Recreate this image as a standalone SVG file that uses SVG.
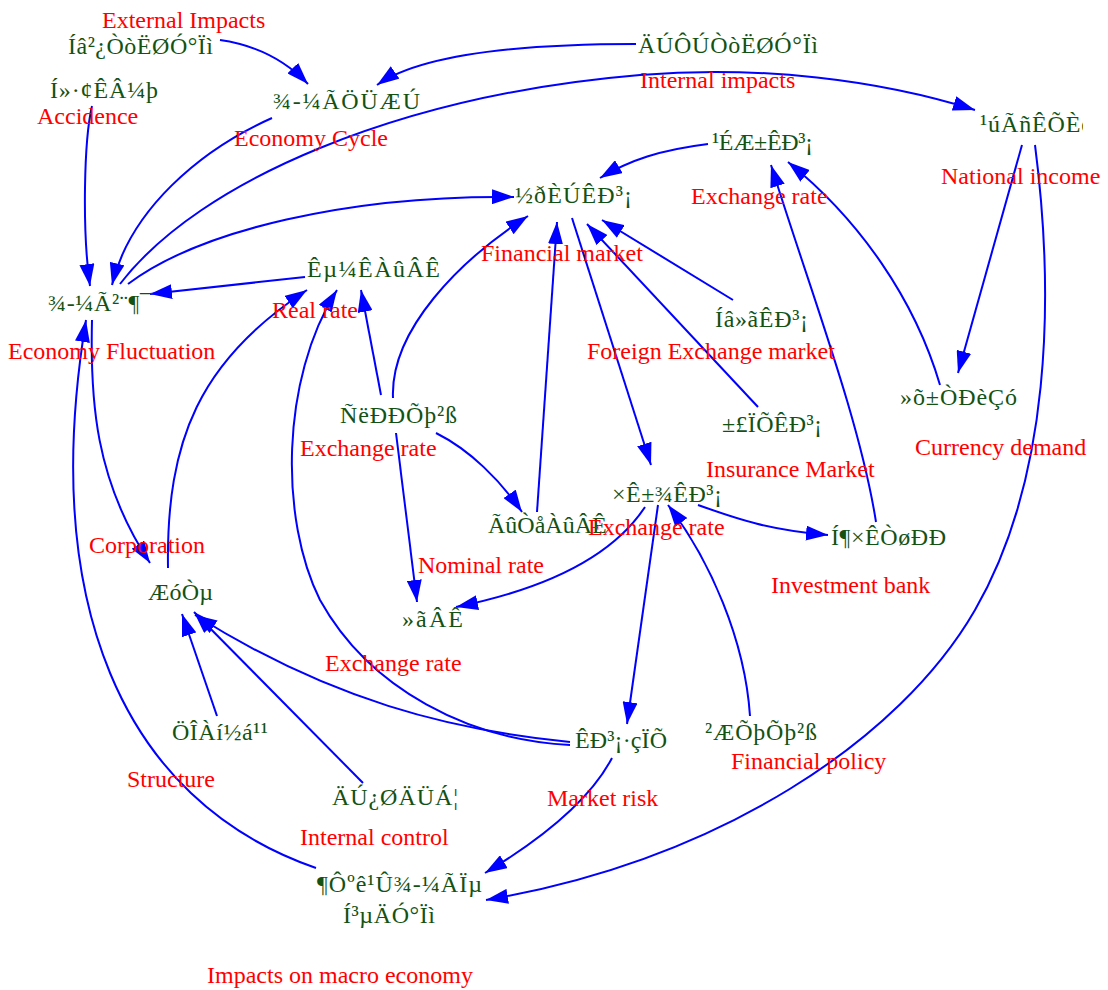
<svg xmlns="http://www.w3.org/2000/svg" width="1108" height="990" viewBox="0 0 1108 990">
<style>
.n{font-family:"Liberation Serif","Times New Roman",serif;font-size:24px;fill:#145214}
.l{font-family:"Liberation Serif","Times New Roman",serif;font-size:24px;fill:#ff0000}
.e path{fill:none;stroke:#0000ff;stroke-width:2;marker-end:url(#ah)}
</style>
<defs>
<marker id="ah" markerUnits="userSpaceOnUse" markerWidth="23" markerHeight="15" refX="22" refY="7.5" orient="auto">
<path d="M0,0 L22,7.5 L0,15 z" fill="#0000ff"/>
</marker>
<clipPath id="cr"><rect x="0" y="0" width="1083" height="990"/></clipPath>
</defs>
<rect width="1108" height="990" fill="#ffffff"/>
<g class="e" id="connectors">
<path d="M220,40 C255,45 285,60 308,84"/>
<path d="M636,44 C520,44 420,55 377,85"/>
<path d="M92,106 C84,140 82,230 90,286"/>
<path d="M272,118 C200,150 130,210 112,285"/>
<path d="M120,284 C200,180 400,95 640,75 C760,65 880,80 975,110"/>
<path d="M128,284 C200,230 350,195 514,197"/>
<path d="M305,277 L150,294"/>
<path d="M316,868 C120,800 40,600 86,320"/>
<path d="M92,320 C90,400 95,480 150,563"/>
<path d="M168,568 C166,440 200,360 307,290"/>
<path d="M381,395 L361,290"/>
<path d="M570,745 C470,740 370,690 320,600 C280,520 280,380 337,290"/>
<path d="M570,742 C450,730 330,700 195,615"/>
<path d="M217,716 L182,614"/>
<path d="M363,783 L194,612"/>
<path d="M393,398 C390,330 460,260 528,216"/>
<path d="M396,433 L417,602"/>
<path d="M436,433 C470,450 500,480 522,512"/>
<path d="M537,512 L557,222"/>
<path d="M572,218 L651,465"/>
<path d="M758,407 L587,224"/>
<path d="M733,300 L602,220"/>
<path d="M708,144 C660,150 630,160 600,178"/>
<path d="M876,522 C860,420 810,290 771,165"/>
<path d="M940,385 C915,300 860,220 788,162"/>
<path d="M1022,145 L958,373"/>
<path d="M1035,145 C1055,300 1050,480 975,610 C900,740 720,860 486,900"/>
<path d="M612,758 C590,800 540,840 485,873"/>
<path d="M658,505 L627,724"/>
<path d="M698,505 C740,520 770,530 828,535"/>
<path d="M750,716 C745,640 710,560 668,505"/>
<path d="M645,507 C610,560 540,590 456,607"/>
</g>
<g id="n_ext"><text class="n" x="68" y="54" textLength="145" lengthAdjust="spacing">Íâ²¿ÒòËØÓ°Ïì</text><text class="l" x="102" y="28">External Impacts</text></g>
<g id="n_acc"><text class="n" x="50" y="98" textLength="108" lengthAdjust="spacing">Í»·¢ÊÂ¼þ</text><text class="l" x="37" y="124">Accidence</text></g>
<g id="n_cycle"><text class="n" x="273" y="109" textLength="147" lengthAdjust="spacing">¾-¼ÃÖÜÆÚ</text><text class="l" x="234" y="146">Economy Cycle</text></g>
<g id="n_int"><text class="n" x="638" y="53" textLength="180" lengthAdjust="spacing">ÄÚÔÚÒòËØÓ°Ïì</text><text class="l" x="640" y="88">Internal impacts</text></g>
<g id="n_income"><text class="n" x="980" y="132" textLength="112" lengthAdjust="spacing" clip-path="url(#cr)">¹úÃñÊÕÈë</text><text class="l" x="941" y="184">National income</text></g>
<g id="n_stock"><text class="n" x="712" y="150" textLength="101" lengthAdjust="spacing">¹ÉÆ±ÊÐ³¡</text><text class="l" x="691" y="204">Exchange rate</text></g>
<g id="n_fin"><text class="n" x="515" y="203" textLength="117" lengthAdjust="spacing">½ðÈÚÊÐ³¡</text><text class="l" x="481" y="261">Financial market</text></g>
<g id="n_fluct"><text class="n" x="48" y="311" textLength="104" lengthAdjust="spacing">¾-¼Ã²¨¶¯</text><text class="l" x="8" y="359">Economy Fluctuation</text></g>
<g id="n_real"><text class="n" x="307" y="277" textLength="133" lengthAdjust="spacing">Êµ¼ÊÀûÂÊ</text><text class="l" x="272" y="318">Real rate</text></g>
<g id="n_forex"><text class="n" x="715" y="327" textLength="93" lengthAdjust="spacing">Íâ»ãÊÐ³¡</text><text class="l" x="587" y="359">Foreign Exchange market</text></g>
<g id="n_cb"><text class="n" x="340" y="423" textLength="117" lengthAdjust="spacing">ÑëÐÐÕþ²ß</text><text class="l" x="300" y="456">Exchange rate</text></g>
<g id="n_ins"><text class="n" x="722" y="432" textLength="100" lengthAdjust="spacing">±£ÏÕÊÐ³¡</text><text class="l" x="706" y="477">Insurance Market</text></g>
<g id="n_money"><text class="n" x="900" y="405" textLength="117" lengthAdjust="spacing">»õ±ÒÐèÇó</text><text class="l" x="915" y="455">Currency demand</text></g>
<g id="n_cap"><text class="n" x="612" y="502" textLength="110" lengthAdjust="spacing">×Ê±¾ÊÐ³¡</text></g>
<g id="n_nom"><text class="n" x="488" y="533">ÃûÒåÀûÂÊ</text><text class="l" x="418" y="573">Nominal rate</text></g>
<g id="n_cap_l"><text class="l" x="588" y="535">Exchange rate</text></g>
<g id="n_ib"><text class="n" x="831" y="545" textLength="115" lengthAdjust="spacing">Í¶×ÊÒøÐÐ</text><text class="l" x="771" y="593">Investment bank</text></g>
<g id="n_corp"><text class="n" x="148" y="600" textLength="65" lengthAdjust="spacing">ÆóÒµ</text><text class="l" x="89" y="553">Corporation</text></g>
<g id="n_fx"><text class="n" x="402" y="627" textLength="61" lengthAdjust="spacing">»ãÂÊ</text><text class="l" x="325" y="671">Exchange rate</text></g>
<g id="n_gov"><text class="n" x="172" y="740" textLength="96" lengthAdjust="spacing">ÖÎÀí½á¹¹</text><text class="l" x="127" y="787">Structure</text></g>
<g id="n_ctrl"><text class="n" x="332" y="805" textLength="126" lengthAdjust="spacing">ÄÚ¿ØÄÜÁ¦</text><text class="l" x="300" y="845">Internal control</text></g>
<g id="n_risk"><text class="n" x="575" y="748" textLength="92" lengthAdjust="spacing">ÊÐ³¡·çÏÕ</text><text class="l" x="547" y="806">Market risk</text></g>
<g id="n_fiscal"><text class="n" x="705" y="740" textLength="112" lengthAdjust="spacing">²ÆÕþÕþ²ß</text><text class="l" x="731" y="769">Financial policy</text></g>
<g id="n_macro"><text class="n" x="317" y="892" textLength="165" lengthAdjust="spacing">¶Ôºê¹Û¾-¼ÃÏµ</text><text class="n" x="343" y="923" textLength="92" lengthAdjust="spacing">Í³µÄÓ°Ïì</text><text class="l" x="207" y="983">Impacts on macro economy</text></g>
</svg>
